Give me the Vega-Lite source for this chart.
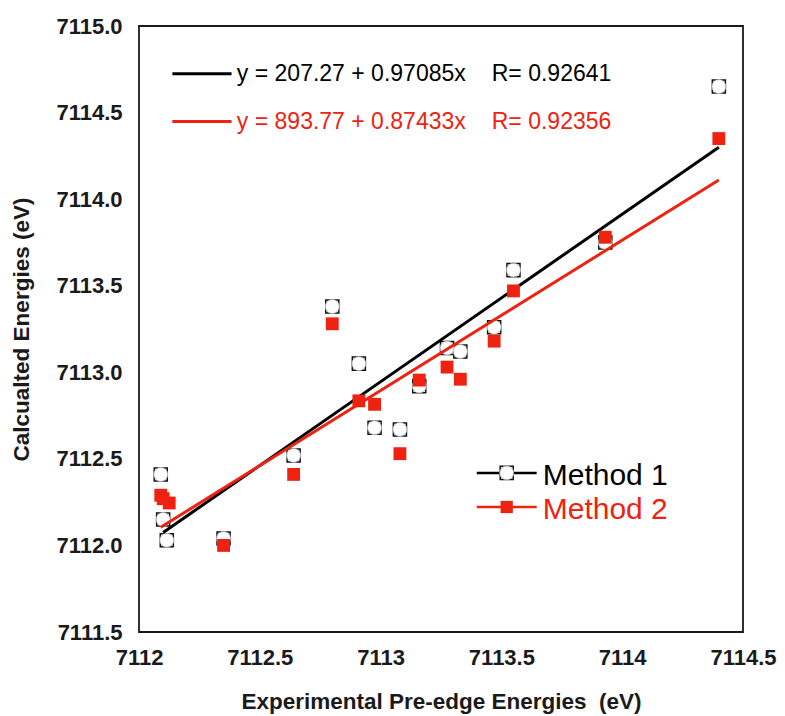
{
  "$schema": "https://vega.github.io/schema/vega-lite/v6.json",
  "width": 604,
  "height": 606,
  "autosize": {"type": "none"},
  "padding": {"left": 139, "top": 26, "right": 42, "bottom": 84},
  "background": "white",
  "config": {
    "view": {"stroke": "#1a1a1a", "strokeWidth": 1.8},
    "axis": {
      "grid": false,
      "domain": false,
      "ticks": false,
      "labelFont": "Liberation Sans",
      "labelFontWeight": "bold",
      "labelFontSize": 22,
      "labelColor": "#1a1a1a",
      "labelFlush": false,
      "labelOverlap": false,
      "labelBound": false,
      "titleFont": "Liberation Sans",
      "titleFontWeight": "bold",
      "titleFontSize": 22.5,
      "titleColor": "#1a1a1a"
    }
  },
  "datasets": {
    "points": [
      {"method": "Method 1", "x": 7112.09, "y": 7112.41},
      {"method": "Method 1", "x": 7112.10, "y": 7112.15},
      {"method": "Method 1", "x": 7112.115, "y": 7112.03},
      {"method": "Method 1", "x": 7112.35, "y": 7112.04},
      {"method": "Method 1", "x": 7112.64, "y": 7112.52},
      {"method": "Method 1", "x": 7112.80, "y": 7113.38},
      {"method": "Method 1", "x": 7112.91, "y": 7113.05},
      {"method": "Method 1", "x": 7112.975, "y": 7112.68},
      {"method": "Method 1", "x": 7113.08, "y": 7112.67},
      {"method": "Method 1", "x": 7113.16, "y": 7112.92},
      {"method": "Method 1", "x": 7113.275, "y": 7113.14},
      {"method": "Method 1", "x": 7113.33, "y": 7113.12},
      {"method": "Method 1", "x": 7113.47, "y": 7113.26},
      {"method": "Method 1", "x": 7113.55, "y": 7113.59},
      {"method": "Method 1", "x": 7113.93, "y": 7113.75},
      {"method": "Method 1", "x": 7114.40, "y": 7114.65},
      {"method": "Method 2", "x": 7112.09, "y": 7112.29},
      {"method": "Method 2", "x": 7112.10, "y": 7112.27},
      {"method": "Method 2", "x": 7112.125, "y": 7112.245},
      {"method": "Method 2", "x": 7112.35, "y": 7112.00},
      {"method": "Method 2", "x": 7112.64, "y": 7112.41},
      {"method": "Method 2", "x": 7112.80, "y": 7113.28},
      {"method": "Method 2", "x": 7112.91, "y": 7112.835},
      {"method": "Method 2", "x": 7112.975, "y": 7112.815},
      {"method": "Method 2", "x": 7113.08, "y": 7112.53},
      {"method": "Method 2", "x": 7113.16, "y": 7112.955},
      {"method": "Method 2", "x": 7113.275, "y": 7113.03},
      {"method": "Method 2", "x": 7113.33, "y": 7112.96},
      {"method": "Method 2", "x": 7113.47, "y": 7113.18},
      {"method": "Method 2", "x": 7113.55, "y": 7113.47},
      {"method": "Method 2", "x": 7113.93, "y": 7113.78},
      {"method": "Method 2", "x": 7114.40, "y": 7114.35}
    ],
    "fits": [
      {"method": "Method 1", "x": 7112.10, "y": 7112.075},
      {"method": "Method 1", "x": 7114.40, "y": 7114.30},
      {"method": "Method 2", "x": 7112.09, "y": 7112.105},
      {"method": "Method 2", "x": 7114.40, "y": 7114.11}
    ],
    "xticks": [
      {"tx": 7112.5}, {"tx": 7113}, {"tx": 7113.5}, {"tx": 7114}
    ],
    "yticks": [
      {"ty": 7112}, {"ty": 7112.5}, {"ty": 7113}, {"ty": 7113.5}, {"ty": 7114}, {"ty": 7114.5}
    ],
    "eqlines": [
      {"method": "Method 1", "x": 7112.138, "y": 7114.724},
      {"method": "Method 1", "x": 7112.383, "y": 7114.724},
      {"method": "Method 2", "x": 7112.138, "y": 7114.448},
      {"method": "Method 2", "x": 7112.383, "y": 7114.448}
    ],
    "eqtext": [
      {"method": "Method 1", "x": 7112.405, "y": 7114.724, "label": "y = 207.27 + 0.97085x"},
      {"method": "Method 1", "x": 7113.46, "y": 7114.724, "label": "R= 0.92641"},
      {"method": "Method 2", "x": 7112.405, "y": 7114.448, "label": "y = 893.77 + 0.87433x"},
      {"method": "Method 2", "x": 7113.46, "y": 7114.448, "label": "R= 0.92356"}
    ],
    "leglines": [
      {"method": "Method 1", "x": 7113.398, "y": 7112.419},
      {"method": "Method 1", "x": 7113.646, "y": 7112.419},
      {"method": "Method 2", "x": 7113.398, "y": 7112.222},
      {"method": "Method 2", "x": 7113.646, "y": 7112.222}
    ],
    "legmarks": [
      {"method": "Method 1", "x": 7113.522, "y": 7112.419, "label": "Method 1"},
      {"method": "Method 2", "x": 7113.522, "y": 7112.222, "label": "Method 2"}
    ],
    "legtext": [
      {"method": "Method 1", "x": 7113.671, "y": 7112.40, "label": "Method 1"},
      {"method": "Method 2", "x": 7113.671, "y": 7112.205, "label": "Method 2"}
    ]
  },
  "encoding": {
    "x": {
      "field": "x",
      "type": "quantitative",
      "scale": {"domain": [7112, 7114.5], "nice": false, "zero": false},
      "axis": {
        "values": [7112, 7112.5, 7113, 7113.5, 7114, 7114.5],
        "format": ".1~f",
        "labelPadding": 15,
        "titlePadding": 22,
        "title": "Experimental Pre-edge Energies\u00a0 (eV)"
      }
    },
    "y": {
      "field": "y",
      "type": "quantitative",
      "scale": {"domain": [7111.5, 7115], "nice": false, "zero": false},
      "axis": {
        "values": [7111.5, 7112, 7112.5, 7113, 7113.5, 7114, 7114.5, 7115],
        "format": ".1f",
        "labelPadding": 17,
        "titlePadding": 22,
        "title": "Calcualted Energies (eV)"
      }
    }
  },
  "layer": [
    {
      "data": {"name": "points"},
      "transform": [{"filter": "datum.method === 'Method 1'"}],
      "mark": {"type": "point", "shape": "square", "filled": true, "fill": "white", "stroke": "#111111", "strokeWidth": 1.5, "size": 170, "opacity": 1}
    },
    {
      "data": {"name": "points"},
      "transform": [{"filter": "datum.method === 'Method 1'"}],
      "mark": {"type": "point", "shape": "circle", "filled": true, "fill": "white", "stroke": "#b0b0b0", "strokeWidth": 0.8, "size": 195, "opacity": 1}
    },
    {
      "data": {"name": "fits"},
      "mark": {"type": "line", "strokeWidth": 3},
      "encoding": {
        "color": {"field": "method", "type": "nominal", "scale": {"domain": ["Method 1", "Method 2"], "range": ["#000000", "#ee2211"]}, "legend": null}
      }
    },
    {
      "data": {"name": "points"},
      "transform": [{"filter": "datum.method === 'Method 2'"}],
      "mark": {"type": "point", "shape": "square", "filled": true, "color": "#ee2211", "size": 165, "opacity": 1}
    },
    {
      "data": {"name": "eqlines"},
      "mark": {"type": "line", "strokeWidth": 3},
      "encoding": {
        "color": {"field": "method", "type": "nominal", "scale": {"domain": ["Method 1", "Method 2"], "range": ["#000000", "#ee2211"]}, "legend": null}
      }
    },
    {
      "data": {"name": "eqtext"},
      "mark": {"type": "text", "align": "left", "baseline": "middle", "font": "Liberation Sans", "fontSize": 23},
      "encoding": {
        "text": {"field": "label"},
        "color": {"field": "method", "type": "nominal", "scale": {"domain": ["Method 1", "Method 2"], "range": ["#222222", "#e5392e"]}, "legend": null}
      }
    },
    {
      "data": {"name": "leglines"},
      "mark": {"type": "line", "strokeWidth": 2.5},
      "encoding": {
        "color": {"field": "method", "type": "nominal", "scale": {"domain": ["Method 1", "Method 2"], "range": ["#000000", "#ee2211"]}, "legend": null}
      }
    },
    {
      "data": {"name": "legmarks"},
      "transform": [{"filter": "datum.method === 'Method 1'"}],
      "mark": {"type": "point", "shape": "square", "filled": true, "fill": "white", "stroke": "#111111", "strokeWidth": 1.5, "size": 170, "opacity": 1}
    },
    {
      "data": {"name": "legmarks"},
      "transform": [{"filter": "datum.method === 'Method 1'"}],
      "mark": {"type": "point", "shape": "circle", "filled": true, "fill": "white", "stroke": "#b0b0b0", "strokeWidth": 0.8, "size": 195, "opacity": 1}
    },
    {
      "data": {"name": "legmarks"},
      "transform": [{"filter": "datum.method === 'Method 2'"}],
      "mark": {"type": "point", "shape": "square", "filled": true, "color": "#ee2211", "size": 150, "opacity": 1}
    },
    {
      "data": {"name": "legtext"},
      "mark": {"type": "text", "align": "left", "baseline": "middle", "font": "Liberation Sans", "fontSize": 30},
      "encoding": {
        "text": {"field": "label"},
        "color": {"field": "method", "type": "nominal", "scale": {"domain": ["Method 1", "Method 2"], "range": ["#111111", "#ee2211"]}, "legend": null}
      }
    },
    {
      "data": {"name": "xticks"},
      "mark": {"type": "rule", "color": "#111111", "strokeWidth": 2, "opacity": 1},
      "encoding": {
        "x": {"field": "tx", "type": "quantitative"},
        "y": {"datum": 7111.5, "type": "quantitative"},
        "y2": {"datum": 7111.565}
      }
    },
    {
      "data": {"name": "yticks"},
      "mark": {"type": "rule", "color": "#111111", "strokeWidth": 2, "opacity": 1},
      "encoding": {
        "y": {"field": "ty", "type": "quantitative"},
        "x": {"datum": 7112, "type": "quantitative"},
        "x2": {"datum": 7112.047}
      }
    }
  ]
}
